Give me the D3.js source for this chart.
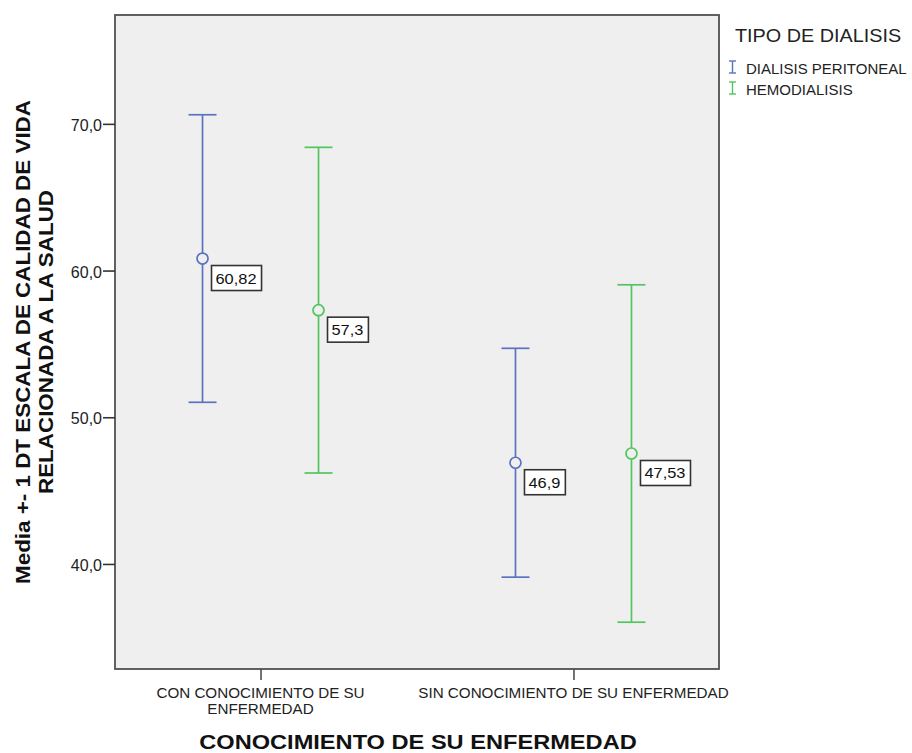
<!DOCTYPE html>
<html><head><meta charset="utf-8">
<script src="https://cdn.jsdelivr.net/npm/d3@7"></script>
<style>body{margin:0;background:#fff;} text{font-family:"Liberation Sans",Arial,sans-serif;}</style>
</head><body>
<svg id="c" width="912" height="753"></svg>
<script>
const categories = ["CON CONOCIMIENTO DE SU ENFERMEDAD", "SIN CONOCIMIENTO DE SU ENFERMEDAD"];
const categoryLabels = [["CON CONOCIMIENTO DE SU", "ENFERMEDAD"], ["SIN CONOCIMIENTO DE SU ENFERMEDAD"]];
const series = ["DIALISIS PERITONEAL", "HEMODIALISIS"];
const colors = ["#5b72c2", "#52c560"];
const means = [[60.82, 57.3], [46.9, 47.53]];
const sds = [[9.8, 11.1], [7.8, 11.5]];
const meanLabels = [["60,82", "57,3"], ["46,9", "47,53"]];
const yTicks = [40, 50, 60, 70];

const svg = d3.select("#c");
const L = 115, R = 719, T = 15, B = 669;
const y = d3.scaleLinear().domain([32.84, 77.42]).range([B, T]);
const x = d3.scalePoint().domain(categories).range([L, R]).padding(0.465);
const xs = d3.scalePoint().domain(series).range([-58, 58]);

function widen(sel, k) {
  sel.each(function () {
    const w = this.getComputedTextLength();
    d3.select(this).attr("textLength", w * k).attr("lengthAdjust", "spacingAndGlyphs");
  });
}

svg.append("rect").attr("x", L).attr("y", T).attr("width", R - L).attr("height", B - T)
  .attr("fill", "#efefef").attr("stroke", "#505050").attr("stroke-width", 1.8);

// y axis
const ya = svg.append("g").attr("transform", `translate(${L},0)`)
  .call(d3.axisLeft(y).tickValues(yTicks).tickSize(12).tickPadding(1).tickFormat(d => d3.format(".1f")(d).replace(".", ",")));
ya.select(".domain").remove();
ya.selectAll("line").attr("stroke", "#333").attr("stroke-width", 1.6);
ya.selectAll("text").attr("font-size", 16).attr("fill", "#222").attr("dy", "0.42em")
  .attr("font-family", "Liberation Sans, Arial, sans-serif");

// x axis
const xa = svg.append("g").attr("transform", `translate(0,${B})`)
  .call(d3.axisBottom(x).tickSize(11).tickFormat(""));
xa.select(".domain").remove();
xa.selectAll("line").attr("stroke", "#505050").attr("stroke-width", 1.6);
categories.forEach((c, i) => {
  const t = svg.append("text").attr("x", x(c)).attr("y", 698).attr("text-anchor", "middle")
    .attr("font-size", 14).attr("fill", "#222");
  categoryLabels[i].forEach((ln, j) => t.append("tspan").attr("x", x(c)).attr("y", 698 + j * 16).text(ln));
  widen(t.selectAll("tspan"), 1.085);
});

// error bars
categories.forEach((c, i) => {
  series.forEach((s, k) => {
    const cx = x(c) + xs(s);
    const m = means[i][k], sd = sds[i][k];
    const g = svg.append("g").attr("stroke", colors[k]).attr("stroke-width", 1.7).attr("fill", "none");
    g.append("line").attr("x1", cx).attr("x2", cx).attr("y1", y(m + sd)).attr("y2", y(m - sd));
    [m + sd, m - sd].forEach(v => g.append("line").attr("x1", cx - 14).attr("x2", cx + 14).attr("y1", y(v)).attr("y2", y(v)));
    g.append("circle").attr("cx", cx).attr("cy", y(m)).attr("r", 5.5).attr("fill", "#efefef");
    // label
    const lbl = svg.append("g");
    const tx = lbl.append("text").attr("x", cx + 13).attr("y", y(m) + 25).attr("font-size", 14).attr("fill", "#111").text(meanLabels[i][k]);
    widen(tx, 1.17);
    const w = +tx.attr("textLength");
    lbl.insert("rect", "text").attr("x", cx + 9).attr("y", y(m) + 7).attr("width", w + 9).attr("height", 25)
      .attr("fill", "#fff").attr("stroke", "#333").attr("stroke-width", 1.6);
  });
});

// legend
const lt = svg.append("text").attr("x", 735).attr("y", 42).attr("font-size", 18).attr("fill", "#222").text("TIPO DE DIALISIS");
widen(lt, 1.1);
series.forEach((s, k) => {
  const ly = 67 + k * 21;
  const g = svg.append("g").attr("stroke", colors[k]).attr("stroke-width", 1.4);
  g.append("line").attr("x1", 732.5).attr("x2", 732.5).attr("y1", ly - 6).attr("y2", ly + 6);
  g.append("line").attr("x1", 729).attr("x2", 736).attr("y1", ly - 6).attr("y2", ly - 6);
  g.append("line").attr("x1", 729).attr("x2", 736).attr("y1", ly + 6).attr("y2", ly + 6);
  svg.append("text").attr("x", 746).attr("y", ly + 7).attr("font-size", 15).attr("fill", "#222").text(s);
});

// axis titles
const xt = svg.append("text").attr("x", 418).attr("y", 749).attr("text-anchor", "middle")
  .attr("font-size", 20).attr("font-weight", "bold").attr("fill", "#111").text("CONOCIMIENTO DE SU ENFERMEDAD");
widen(xt, 1.18);
const yt = svg.append("text").attr("transform", "translate(30,342) rotate(-90)").attr("text-anchor", "middle")
  .attr("font-size", 20).attr("font-weight", "bold").attr("fill", "#111");
yt.append("tspan").attr("x", 0).attr("y", 0).text("Media +- 1 DT ESCALA DE CALIDAD DE VIDA");
yt.append("tspan").attr("x", 0).attr("y", 23).text("RELACIONADA A LA SALUD");
widen(yt.selectAll("tspan"), 1.12);
</script>
</body></html>
